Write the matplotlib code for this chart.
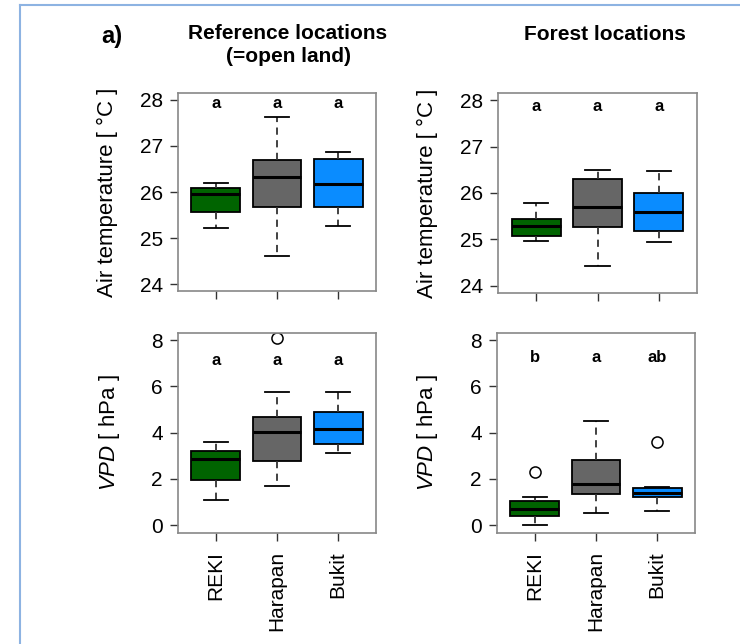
import matplotlib
matplotlib.use("Agg")
import matplotlib.pyplot as plt
from matplotlib.lines import Line2D

plt.rcParams['font.family'] = ['Liberation Sans', 'DejaVu Sans']
plt.rcParams['mathtext.fontset'] = 'custom'
plt.rcParams['mathtext.rm'] = 'Liberation Sans'
plt.rcParams['mathtext.it'] = 'Liberation Sans:italic'

sites = ['REKI', 'Harapan', 'Bukit']
colors = ['#006400', '#666666', '#0a8cff']

# box stats: lower whisker, Q1, median, Q3, upper whisker
temp_ref = [[25.22, 25.57, 25.95, 26.08, 26.20],
            [24.61, 25.68, 26.32, 26.69, 27.62],
            [25.27, 25.67, 26.17, 26.72, 26.86]]
temp_for = [[24.97, 25.07, 25.28, 25.45, 25.79],
            [24.43, 25.27, 25.69, 26.30, 26.49],
            [24.95, 25.18, 25.60, 26.01, 26.47]]
vpd_ref = [[1.09, 1.97, 2.86, 3.22, 3.58],
           [1.70, 2.79, 4.01, 4.69, 5.75],
           [3.11, 3.51, 4.14, 4.90, 5.75]]
vpd_for = [[0.00, 0.42, 0.72, 1.07, 1.24],
           [0.52, 1.33, 1.80, 2.80, 4.51],
           [0.63, 1.20, 1.41, 1.62, 1.64]]
vpd_ref_out = [[], [8.10], []]
vpd_for_out = [[2.32], [], [3.61]]
temp_out = [[], [], []]

letters_temp_ref = ['a', 'a', 'a']
letters_temp_for = ['a', 'a', 'a']
letters_vpd_ref = ['a', 'a', 'a']
letters_vpd_for = ['b', 'a', 'ab']

fig = plt.figure(figsize=(7.4, 6.44), dpi=100)
W, H = 740, 644

def add_ax(x0, x1, ytop, ybot):
    return fig.add_axes([x0 / W, 1 - ybot / H, (x1 - x0) / W, (ybot - ytop) / H])

ax_tl = add_ax(178, 376, 92.6, 291.4)
ax_tr = add_ax(498, 697, 92.6, 293.4)
ax_bl = add_ax(178, 376, 332.6, 532.7)
ax_br = add_ax(497, 695, 332.6, 532.7)


def draw(ax, stats, outl, letters, ylim, yticks, ylabel, letter_y, show_x, label_x):
    bx = []
    for s, o in zip(stats, outl):
        bx.append(dict(whislo=s[0], q1=s[1], med=s[2], q3=s[3], whishi=s[4], fliers=o))
    b = ax.bxp(bx, positions=[1, 2, 3], widths=0.8, capwidths=0.4, patch_artist=True,
               boxprops=dict(edgecolor='black', linewidth=1.3),
               medianprops=dict(color='black', linewidth=2.2),
               whiskerprops=dict(color='#333333', linewidth=1.3, linestyle=(0, (4, 3))),
               capprops=dict(color='black', linewidth=1.3),
               flierprops=dict(marker='o', markerfacecolor='none', markeredgecolor='black',
                               markersize=8, markeredgewidth=1.1))
    for patch, c in zip(b['boxes'], colors):
        patch.set_facecolor(c)
    for i, t in enumerate(letters):
        ax.text(i + 1, letter_y, t, ha='center', va='center', fontsize=12, fontweight='bold')
    ax.set_xlim(0.38, 3.62)
    ax.set_ylim(*ylim)
    ax.set_yticks(yticks)
    ax.set_xticks([1, 2, 3])
    if show_x:
        ax.set_xticklabels(sites, rotation=90, fontsize=15)
    else:
        ax.set_xticklabels([])
    ax.tick_params(axis='both', length=6, width=1, color='#333333', labelsize=15, pad=5)
    ax.tick_params(axis='x', pad=7)
    for sp in ax.spines.values():
        sp.set_color('#888888')
        sp.set_linewidth(1.2)
    ax.set_ylabel(ylabel, fontsize=16)
    pos = ax.get_position()
    ax.yaxis.set_label_coords((label_x / W - pos.x0) / pos.width, 0.5)
    ax.yaxis.label.set_va('center')


draw(ax_tl, temp_ref, temp_out, letters_temp_ref, (23.84, 28.16), [24, 25, 26, 27, 28],
     'Air temperature [ °C ]', 27.93, False, 107)
draw(ax_tr, temp_for, temp_out, letters_temp_for, (23.84, 28.16), [24, 25, 26, 27, 28],
     'Air temperature [ °C ]', 27.87, False, 427)
draw(ax_bl, vpd_ref, vpd_ref_out, letters_vpd_ref, (-0.32, 8.32), [0, 2, 4, 6, 8],
     r'$\it{VPD}$ [ hPa ]', 7.1, True, 109)
draw(ax_br, vpd_for, vpd_for_out, letters_vpd_for, (-0.32, 8.32), [0, 2, 4, 6, 8],
     r'$\it{VPD}$ [ hPa ]', 7.25, True, 427)

fig.text(288 / W, 1 - 45 / H, 'Reference locations\n(=open land)', ha='center', va='center',
         fontsize=15, fontweight='bold', linespacing=1.25)
fig.text(605 / W, 1 - 35 / H, 'Forest locations', ha='center', va='center',
         fontsize=15, fontweight='bold')
fig.text(112 / W, 1 - 37 / H, 'a)', ha='center', va='center', fontsize=17, fontweight='bold')

# panel border lines
fig.add_artist(Line2D([20 / W, 1], [1 - 4.5 / H, 1 - 4.5 / H], color='#8db3e2', linewidth=1.5,
                      transform=fig.transFigure))
fig.add_artist(Line2D([20 / W, 20 / W], [1 - 4.5 / H, 0], color='#8db3e2', linewidth=1.5,
                      transform=fig.transFigure))

fig.savefig('out.png', dpi=100)
